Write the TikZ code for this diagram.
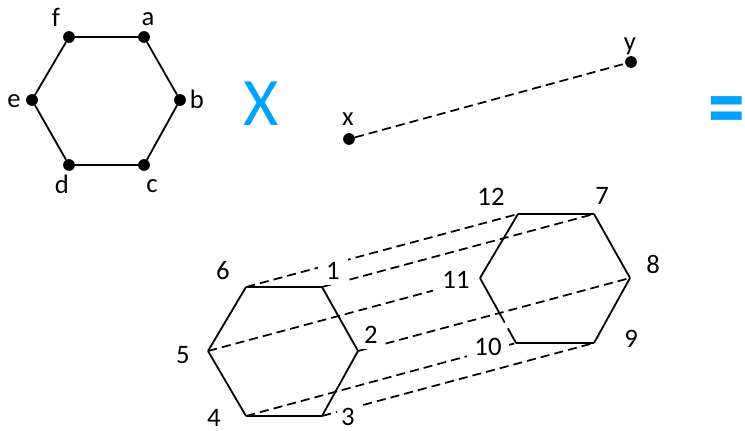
\documentclass[tikz,border=0pt]{standalone}
\usepackage{fontspec}
\setmainfont{Carlito}
\usetikzlibrary{calc}
\definecolor{opblue}{HTML}{00A2FF}
\tikzset{
  dotnode/.style={circle,fill=black,inner sep=0pt,minimum size=8.8pt},
  vtx/.style={inner sep=0pt,minimum size=0pt},
  solidedge/.style={line width=1.35pt,black,line cap=round},
  dashedge/.style={line width=1.3pt,black,dash pattern=on 6.8pt off 3.8pt},
  lbl/.style={font=\fontsize{20}{22}\selectfont,inner sep=0pt,text=black},
  clbl/.style={lbl,fill=white,minimum width=17pt,minimum height=21pt,inner sep=0pt},
  opsym/.style={font=\fontsize{51}{56}\selectfont,text=opblue,inner sep=0pt}
}
\begin{document}
\begin{tikzpicture}[x=.75pt,y=-.75pt]
\useasboundingbox (0,0) rectangle (745,431);
% first factor
\node[dotnode] (a) at (144,37) {};
\node[dotnode] (b) at (180,100) {};
\node[dotnode] (c) at (144,165) {};
\node[dotnode] (d) at (69,165) {};
\node[dotnode] (e) at (32,100) {};
\node[dotnode] (f) at (69,37) {};
\draw[solidedge] (a)--(b)--(c)--(d)--(e)--(f)--(a);
\node[lbl] (la) at (148,19) {a};
\node[lbl] (lb) at (197,99) {b};
\node[lbl] (lc) at (152,186) {c};
\node[lbl] (ld) at (62,184) {d};
\node[lbl] (le) at (14,101) {e};
\node[lbl] (lf) at (56,17) {f};
\node[opsym] (times) at (261,104) {X};
% second factor
\node[dotnode] (x) at (349,139) {};
\node[dotnode] (y) at (631,62) {};
\draw[dashedge] (x)--(y);
\node[lbl] (lx) at (348,119) {x};
\node[lbl] (ly) at (630,46) {y};
\node[opsym,font=\fontsize{55}{60}\selectfont\bfseries,yscale=1.25,transform shape] (eq) at (726.5,117) {=};
% product vertices
\node[vtx] (n1) at (322,287) {};
\node[vtx] (n2) at (358,351) {};
\node[vtx] (n3) at (322,416) {};
\node[vtx] (n4) at (246,416) {};
\node[vtx] (n5) at (208,351) {};
\node[vtx] (n6) at (246,287) {};
\node[vtx] (n7) at (594,214) {};
\node[vtx] (n8) at (630,278) {};
\node[vtx] (n9) at (594,343) {};
\node[vtx] (n10) at (516,343) {};
\node[vtx] (n11) at (480,278) {};
\node[vtx] (n12) at (518,214) {};
\draw[dashedge] (n6)--(n12);
\draw[dashedge] (n1)--(n7);
\draw[dashedge] (n5)--(n11);
\draw[dashedge] (n2)--(n8);
\draw[dashedge] (n4)--(n10);
\draw[dashedge] (n3)--(n9);
% labels mask the dashed lines that pass behind them
\node[clbl,minimum width=22pt] (l1) at (333,271) {1};
\node[clbl] (l2) at (371,335) {2};
\node[clbl] (l3) at (348,417) {3};
\node[lbl] (l4) at (214,418) {4};
\node[lbl] (l5) at (183,355) {5};
\node[lbl] (l6) at (223,271) {6};
\node[lbl] (l7) at (602,196) {7};
\node[lbl] (l8) at (653,264) {8};
\node[lbl] (l9) at (631,339) {9};
\node[clbl,minimum width=32pt] (l10) at (488,347) {10};
\node[clbl,minimum width=34pt] (l11) at (456,280) {11};
\node[lbl] (l12) at (491,197) {12};
\coordinate (g1) at ($(n11)!0.68!(n10)$);
\coordinate (g2) at ($(n11)!0.78!(n10)$);
\draw[solidedge] (n6)--(n1)--(n2)--(n3)--(n4)--(n5)--(n6);
\draw[solidedge] (n9)--(n10) (n7)--(n8)--(n9) (n7)--(n12)--(n11)--(g1) (g2)--(n10);
\end{tikzpicture}
\end{document}
